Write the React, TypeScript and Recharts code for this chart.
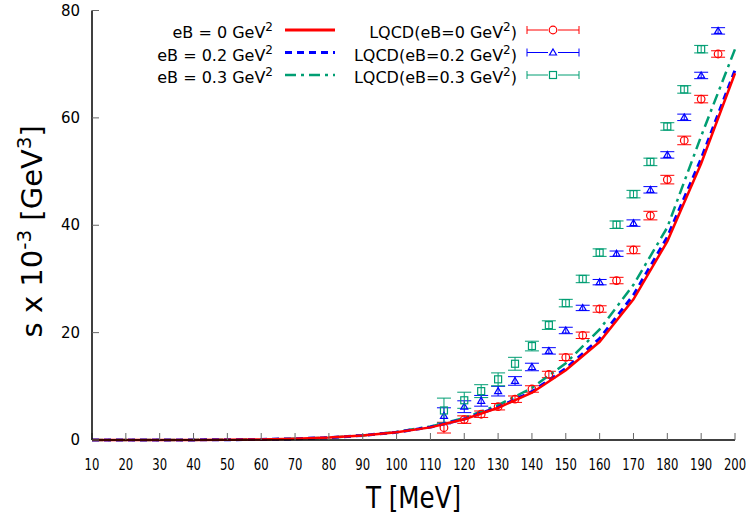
import React from 'react';
import { ComposedChart, Line, Scatter, ErrorBar, XAxis, YAxis, Legend } from 'recharts';

const FONT = '"DejaVu Sans", "Liberation Sans", sans-serif';
const RED = '#ff0000';
const BLUE = '#0000ff';
const GREEN = '#009e73';

// model curves, s x 10^-3 [GeV^3] vs T [MeV]
const T_CURVE = [10, 20, 30, 40, 50, 60, 70, 80, 90, 100, 110, 120, 130, 140, 150, 160, 170, 180, 190, 200];
const S_EB0 = [0, 0, 0.01, 0.02, 0.05, 0.1, 0.22, 0.45, 0.85, 1.45, 2.35, 3.85, 6.0, 8.8, 13.0, 18.3, 26.2, 37.0, 51.5, 68.3];
const S_EB02 = [0, 0, 0.01, 0.02, 0.05, 0.1, 0.22, 0.45, 0.85, 1.45, 2.4, 3.9, 6.1, 9.0, 13.3, 18.9, 27.0, 37.8, 52.4, 68.9];
const S_EB03 = [0, 0, 0.01, 0.02, 0.05, 0.1, 0.22, 0.45, 0.85, 1.5, 2.5, 4.1, 6.5, 9.7, 14.3, 20.6, 28.9, 39.6, 56.6, 72.8];

// lattice points
const T_LQCD = [114, 120, 125, 130, 135, 140, 145, 150, 155, 160, 165, 170, 175, 180, 185, 190, 195];
const LQCD_EB0 = [2.3, 3.8, 4.8, 6.2, 7.6, 9.5, 12.2, 15.4, 19.5, 24.4, 29.7, 35.4, 41.8, 48.5, 55.8, 63.5, 71.9];
const ERR_EB0 = [1.0, 0.7, 0.6, 0.6, 0.6, 0.6, 0.6, 0.6, 0.6, 0.6, 0.6, 0.7, 0.8, 0.8, 0.8, 0.7, 0.6];
const LQCD_EB02 = [4.5, 6.2, 7.3, 9.1, 11.0, 13.6, 16.6, 20.4, 24.6, 29.4, 34.7, 40.4, 46.6, 53.1, 60.1, 67.9, 76.2];
const ERR_EB02 = [1.5, 1.1, 1.0, 0.9, 0.8, 0.7, 0.6, 0.6, 0.5, 0.5, 0.5, 0.6, 0.6, 0.6, 0.6, 0.6, 0.6];
const T_LQCD_03 = [114, 120, 125, 130, 135, 140, 145, 150, 155, 160, 165, 170, 175, 180, 185, 190];
const LQCD_EB03 = [5.5, 7.4, 9.1, 11.3, 14.2, 17.5, 21.4, 25.5, 30.0, 34.9, 40.1, 45.8, 51.8, 58.4, 65.3, 72.8];
const ERR_EB03 = [2.3, 1.5, 1.2, 1.2, 1.2, 0.9, 0.8, 0.7, 0.7, 0.7, 0.7, 0.7, 0.7, 0.7, 0.7, 0.7];

const X_TICKS = [10, 20, 30, 40, 50, 60, 70, 80, 90, 100, 110, 120, 130, 140, 150, 160, 170, 180, 190, 200];
const Y_TICKS = [0, 20, 40, 60, 80];

const curve = (vals: number[]) => T_CURVE.map((T, i) => ({ T, s: vals[i] }));
const points = (ts: number[], vals: number[], errs: number[]) =>
  ts.map((T, i) => ({ T, s: vals[i], err: errs[i] }));

const curve0 = curve(S_EB0);
const curve02 = curve(S_EB02);
const curve03 = curve(S_EB03);
const lqcd0 = points(T_LQCD, LQCD_EB0, ERR_EB0);
const lqcd02 = points(T_LQCD, LQCD_EB02, ERR_EB02);
const lqcd03 = points(T_LQCD_03, LQCD_EB03, ERR_EB03);

const drawMarker = (kind: string, cx: number, cy: number, color: string) => {
  if (kind === 'circle') {
    return <circle cx={cx} cy={cy} r={3.8} fill="none" stroke={color} strokeWidth={1.2} />;
  }
  if (kind === 'triangle') {
    return (
      <path
        d={`M${cx},${cy - 3.5} L${cx + 3.5},${cy + 2.5} L${cx - 3.5},${cy + 2.5} Z`}
        fill="none"
        stroke={color}
        strokeWidth={1.2}
      />
    );
  }
  return <rect x={cx - 3.5} y={cy - 3.5} width={7} height={7} fill="none" stroke={color} strokeWidth={1.2} />;
};

const markerShape = (kind: string, color: string) => (props: any) => drawMarker(kind, props.cx, props.cy, color);

const XTick = (props: any) => {
  const { x, y, payload } = props;
  const label = String(payload.value);
  return (
    <text x={x} y={y} textAnchor="middle" fontSize={16} fill="#000" textLength={label.length * 7.4} lengthAdjust="spacingAndGlyphs">
      {label}
    </text>
  );
};

const YTick = (props: any) => {
  const { x, y, payload } = props;
  return (
    <text x={x} y={y + 5} textAnchor="end" fontSize={15} fill="#000">
      {payload.value}
    </text>
  );
};

const YTitle = (props: any) => {
  const { viewBox } = props;
  const x = viewBox.x + 42;
  const y = viewBox.y + viewBox.height / 2 + 6;
  return (
    <text x={x} y={y} transform={`rotate(-90, ${x}, ${y})`} textAnchor="middle" fontSize={29} fill="#000">
      s x 10<tspan dy={-11} fontSize={20}>-3</tspan>
      <tspan dy={11}> [GeV</tspan>
      <tspan dy={-11} fontSize={20}>3</tspan>
      <tspan dy={11}>]</tspan>
    </text>
  );
};

const XTitle = (props: any) => {
  const { viewBox } = props;
  return (
    <text x={viewBox.x + viewBox.width / 2} y={viewBox.y + 68} textAnchor="middle" fontSize={30} fill="#000" textLength={95} lengthAdjust="spacingAndGlyphs">
      T [MeV]
    </text>
  );
};

const LEGEND_ROWS = [
  { model: 'eB = 0 GeV', lqcd: 'LQCD(eB=0 GeV', color: RED, dash: undefined, width: 3, marker: 'circle' },
  { model: 'eB = 0.2 GeV', lqcd: 'LQCD(eB=0.2 GeV', color: BLUE, dash: '7 5', width: 3, marker: 'triangle' },
  { model: 'eB = 0.3 GeV', lqcd: 'LQCD(eB=0.3 GeV', color: GREEN, dash: '11 5 3 5', width: 2.5, marker: 'square' },
];

const LegendBox = () => (
  <svg width={751} height={95} style={{ display: 'block' }}>
    {LEGEND_ROWS.map((row, i) => {
      const ly = 30 + i * 22.5;
      const ty = ly + 8;
      return (
        <g key={row.model}>
          <text x={273} y={ty} textAnchor="end" fontSize={16} fill="#000">
            {row.model}
            <tspan dy={-7} fontSize={12}>2</tspan>
          </text>
          <line x1={285} x2={335} y1={ly} y2={ly} stroke={row.color} strokeWidth={row.width} strokeDasharray={row.dash} />
          <text x={517} y={ty} textAnchor="end" fontSize={16} fill="#000">
            {row.lqcd}
            <tspan dy={-7} fontSize={12}>2</tspan>
            <tspan dy={7}>)</tspan>
          </text>
          <line x1={527} x2={579} y1={ly} y2={ly} stroke={row.color} strokeWidth={1} />
          <line x1={527} x2={527} y1={ly - 4} y2={ly + 4} stroke={row.color} strokeWidth={1} />
          <line x1={579} x2={579} y1={ly - 4} y2={ly + 4} stroke={row.color} strokeWidth={1} />
          <rect x={548} y={ly - 4} width={10} height={8} fill="#fff" />
          {drawMarker(row.marker, 553, ly, row.color)}
        </g>
      );
    })}
  </svg>
);

export default function App() {
  return (
    <div style={{ position: 'absolute', left: 0, top: 0, width: 751, height: 518, background: '#fff', fontFamily: FONT }}>
      <ComposedChart width={751} height={518} margin={{ top: 10.5, right: 16, bottom: 0, left: 0 }}>
        <XAxis
          dataKey="T"
          type="number"
          domain={[10, 200]}
          ticks={X_TICKS}
          interval={0}
          height={78}
          stroke="#000"
          axisLine={{ stroke: '#000', strokeWidth: 1.5 }}
          tickLine={{ stroke: '#666', strokeWidth: 1 }}
          tickSize={-7}
          tickMargin={37}
          tick={<XTick />}
          label={<XTitle />}
        />
        <XAxis
          xAxisId="top"
          orientation="top"
          type="number"
          domain={[10, 200]}
          ticks={X_TICKS}
          interval={0}
          height={0}
          axisLine={{ stroke: '#000', strokeWidth: 1.5 }}
          tickLine={{ stroke: '#666', strokeWidth: 1 }}
          tickSize={-7}
          tick={false}
        />
        <YAxis
          type="number"
          domain={[0, 80]}
          ticks={Y_TICKS}
          interval={0}
          width={92}
          axisLine={{ stroke: '#000', strokeWidth: 1.5 }}
          tickLine={{ stroke: '#666', strokeWidth: 1 }}
          tickSize={-7}
          tickMargin={19}
          tick={<YTick />}
          label={<YTitle />}
        />
        <YAxis
          yAxisId="right"
          orientation="right"
          type="number"
          domain={[0, 80]}
          ticks={Y_TICKS}
          interval={0}
          width={0}
          axisLine={{ stroke: '#000', strokeWidth: 1.5 }}
          tickLine={{ stroke: '#666', strokeWidth: 1 }}
          tickSize={-7}
          tick={false}
        />
        <Legend
          layout="horizontal"
          verticalAlign="middle"
          align="center"
          content={() => <LegendBox />}
          wrapperStyle={{ position: 'absolute', left: 0, top: 0, width: 751, height: 95, margin: 0, pointerEvents: 'none' }}
        />
        <Scatter data={lqcd0} dataKey="s" shape={markerShape('circle', RED)} isAnimationActive={false} legendType="none">
          <ErrorBar dataKey="err" direction="y" width={7} stroke={RED} strokeWidth={1} />
        </Scatter>
        <Scatter data={lqcd02} dataKey="s" shape={markerShape('triangle', BLUE)} isAnimationActive={false} legendType="none">
          <ErrorBar dataKey="err" direction="y" width={7} stroke={BLUE} strokeWidth={1} />
        </Scatter>
        <Scatter data={lqcd03} dataKey="s" shape={markerShape('square', GREEN)} isAnimationActive={false} legendType="none">
          <ErrorBar dataKey="err" direction="y" width={7} stroke={GREEN} strokeWidth={1} />
        </Scatter>
        <Line data={curve03} dataKey="s" type="linear" stroke={GREEN} strokeWidth={2.5} strokeDasharray="11 5 3 5" dot={false} isAnimationActive={false} />
        <Line data={curve02} dataKey="s" type="linear" stroke={BLUE} strokeWidth={3} strokeDasharray="7 5" dot={false} isAnimationActive={false} />
        <Line data={curve0} dataKey="s" type="linear" stroke={RED} strokeWidth={2.5} dot={false} isAnimationActive={false} />
      </ComposedChart>
    </div>
  );
}
